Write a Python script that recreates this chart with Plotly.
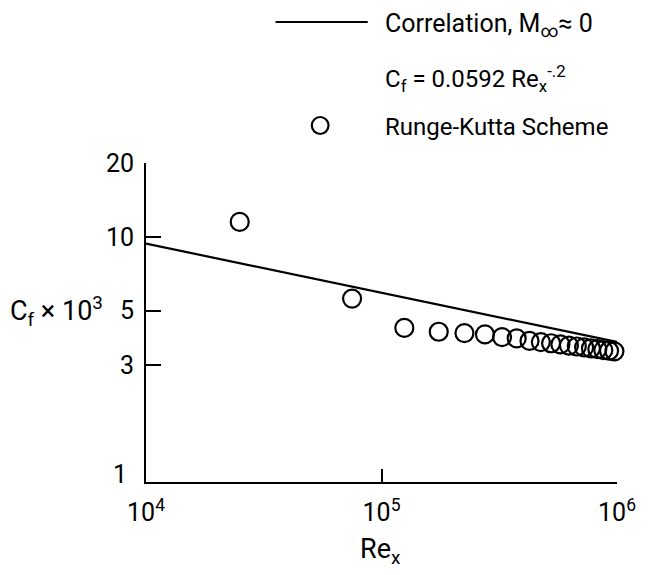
import plotly.graph_objects as go
import math

# Data
rk_re = [2.5e4, 7.5e4, 1.25e5, 1.75e5, 2.25e5, 2.75e5, 3.25e5, 3.75e5, 4.25e5, 4.75e5,
         5.25e5, 5.75e5, 6.25e5, 6.75e5, 7.25e5, 7.75e5, 8.25e5, 8.75e5, 9.25e5, 9.75e5]
rk_cf = [11.5, 5.6, 4.25, 4.1, 4.05, 4.0, 3.9, 3.85, 3.76, 3.72,
         3.68, 3.64, 3.6, 3.57, 3.54, 3.51, 3.48, 3.45, 3.43, 3.41]
corr_re = [1e4, 1e6]
corr_cf = [9.38, 3.73]

x_tickvals = [1e4, 1e5, 1e6]
x_ticktext = ["10<sup>4</sup>", "10<sup>5</sup>", "10<sup>6</sup>"]
y_tickvals = [3, 5, 10, 20]
y_ticktext = ["3", "5", "10", "20"]

FONT = "Roboto, Noto Sans, sans-serif"
W, H = 648, 575
L, R, T, B = 146, 22, 163, 93
pw, ph = W - L - R, H - T - B

def px(x):
    return (x - L) / pw

def py(y):
    return (H - B - y) / ph

def txt(x, y, s, anchor="left", size=24):
    fig.add_annotation(xref="paper", yref="paper", x=px(x), y=py(y), xanchor=anchor,
                       yanchor="middle", showarrow=False, text=s,
                       font=dict(size=size, family=FONT, color="black"))

fig = go.Figure()
fig.add_trace(go.Scatter(x=corr_re, y=corr_cf, mode="lines",
                         line=dict(color="black", width=2.2), showlegend=False))
fig.add_trace(go.Scatter(x=rk_re, y=rk_cf, mode="markers", cliponaxis=False,
                         marker=dict(symbol="circle-open", size=18, color="black",
                                     line=dict(width=2.2, color="black")),
                         showlegend=False))

# legend
fig.add_shape(type="line", xref="paper", yref="paper",
              x0=px(278), x1=px(372), y0=py(22), y1=py(22),
              line=dict(color="black", width=2.2))
txt(388, 25, "Correlation, M<sub>∞</sub>≈ 0", size=25)
txt(388, 79, "C<sub>f</sub> = 0.0592 Re<sub>x</sub><sup>-.2</sup>")
fig.add_shape(type="circle", xref="paper", yref="paper",
              x0=px(315), x1=px(332), y0=py(117), y1=py(134),
              line=dict(color="black", width=2.2))
txt(388, 127, "Runge-Kutta Scheme")

# axis titles and the low tick label
txt(104, 311, "C<sub>f</sub> × 10<sup>3</sup>", anchor="right", size=27)
txt(384, 551, "Re<sub>x</sub>", anchor="center", size=27)
txt(129, 474, "1", anchor="right", size=25)

fig.update_xaxes(type="log", range=[4, 6], tickvals=x_tickvals, ticktext=x_ticktext,
                 ticks="inside", ticklen=13, tickwidth=2, tickcolor="black",
                 showline=True, linecolor="black", linewidth=2, showgrid=False,
                 zeroline=False, ticklabelstandoff=7,
                 tickfont=dict(size=25, family=FONT, color="black"))
fig.update_yaxes(type="log", range=[0, math.log10(20)], tickvals=y_tickvals, ticktext=y_ticktext,
                 ticks="inside", ticklen=15, tickwidth=2, tickcolor="black",
                 showline=True, linecolor="black", linewidth=2, showgrid=False,
                 zeroline=False, ticklabelstandoff=5,
                 tickfont=dict(size=25, family=FONT, color="black"))
fig.update_layout(width=W, height=H, margin=dict(l=L, r=R, t=T, b=B),
                  plot_bgcolor="white", paper_bgcolor="white", showlegend=False)
fig.write_html("out.html")
